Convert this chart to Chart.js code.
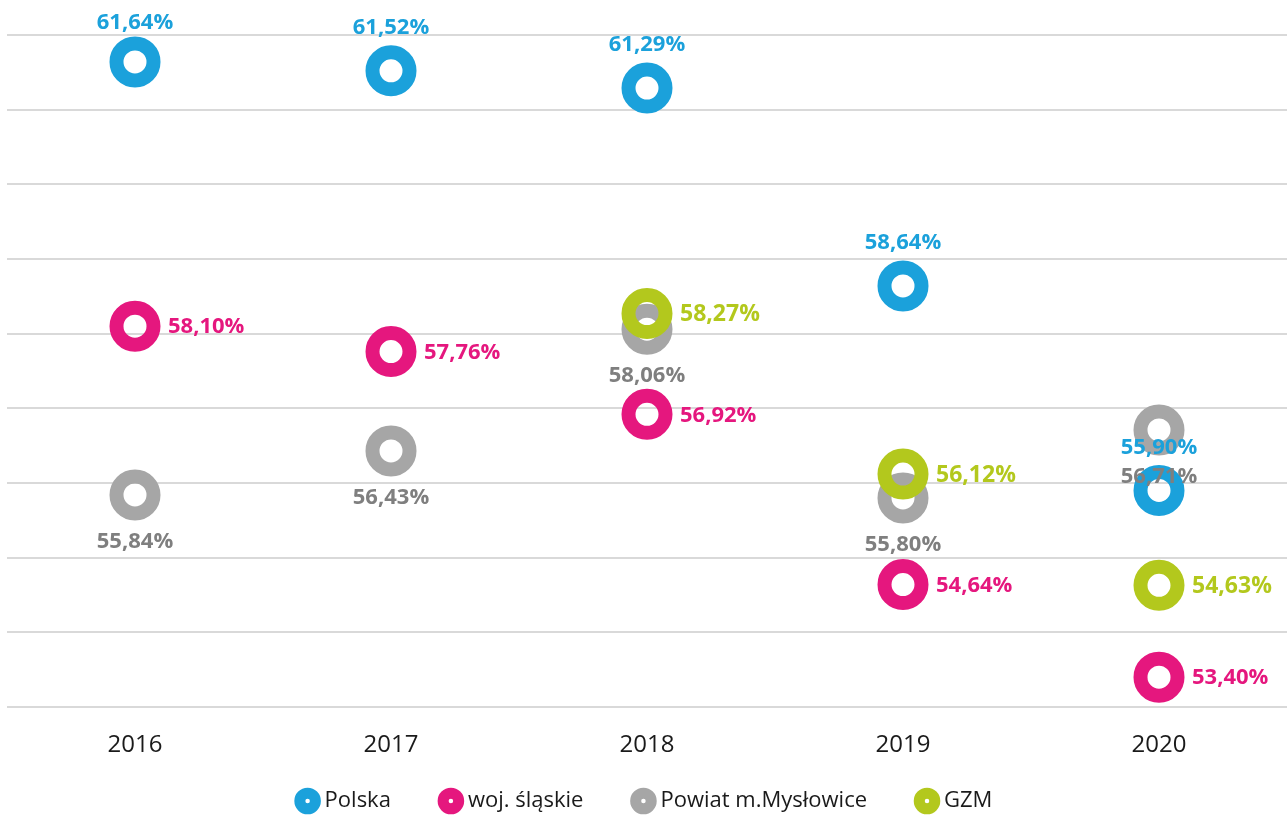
<!DOCTYPE html>
<html lang="pl">
<head>
  <meta charset="UTF-8" />
  <title>Wskaźnik – Polska, woj. śląskie, Powiat m.Mysłowice, GZM</title>
  <script src="https://cdn.jsdelivr.net/npm/chart.js"></script>
  <style>
    html, body { margin: 0; padding: 0; background: #fff; }
    #wrap { width: 1288px; height: 815px; }
  </style>
</head>
<body>
  <div id="wrap"><canvas id="chart" width="1288" height="815"></canvas></div>

  <script>
    // dane
    const years = ['2016', '2017', '2018', '2019', '2020'];
    const polska = [61.64, 61.52, 61.29, 58.64, 55.90];
    const slaskie = [58.10, 57.76, 56.92, 54.64, 53.40];
    const myslowice = [55.84, 56.43, 58.06, 55.80, 56.71];
    const gzm = [null, null, 58.27, 56.12, 54.63];
    const seriesNames = ['Polska', 'woj. śląskie', 'Powiat m.Mysłowice', 'GZM'];

    const ringColors = ['#1ba1db', '#e5177e', '#a6a6a6', '#b3c81d'];
    const labelColors = ['#1ba1db', '#e5177e', '#7f7f7f', '#b3c81d'];
    // where the value label sits relative to its point
    const labelPlace = ['above', 'right', 'below', 'right'];

    const fmt = v => v.toFixed(2).replace('.', ',') + '%';

    function ring(label, data, i, order) {
      return {
        label,
        data,
        order,
        showLine: false,
        borderColor: ringColors[i],
        backgroundColor: 'rgba(0,0,0,0)',
        pointBorderColor: ringColors[i],
        pointBackgroundColor: 'rgba(0,0,0,0)',
        pointRadius: 18.5,
        pointHoverRadius: 18.5,
        pointBorderWidth: 14,
        pointHoverBorderWidth: 14,
        borderWidth: 14,
        clip: false
      };
    }

    const valueLabels = {
      id: 'valueLabels',
      afterDatasetsDraw(chart) {
        const ctx = chart.ctx;
        ctx.save();
        chart.data.datasets.forEach((ds, i) => {
          const meta = chart.getDatasetMeta(i);
          meta.data.forEach((pt, j) => {
            const v = ds.data[j];
            if (v == null) return;
            const text = fmt(v);
            ctx.fillStyle = labelColors[i];
            ctx.font = 'bold ' + (i === 3 ? 23 : 22) + 'px "Open Sans"';
            ctx.textBaseline = 'middle';
            const place = labelPlace[i];
            if (place === 'above') {
              ctx.textAlign = 'center';
              ctx.fillText(text, pt.x, Math.max(pt.y - 43, 23));
            } else if (place === 'below') {
              ctx.textAlign = 'center';
              ctx.fillText(text, pt.x, pt.y + 47);
            } else {
              ctx.textAlign = 'left';
              ctx.fillText(text, pt.x + 33, pt.y + 1);
            }
          });
        });
        ctx.restore();
      }
    };

    // legend keeps its wide horizontal gaps, but sits closer to the axis
    const legendNudge = {
      id: 'legendNudge',
      afterLayout(chart) {
        const lg = chart.legend;
        const pad = lg.options.labels.padding;
        lg.top = 801 - pad - 11;
      }
    };

    new Chart(document.getElementById('chart'), {
      type: 'line',
      data: {
        labels: years,
        datasets: [
          ring(seriesNames[0], polska, 0, 1),
          ring(seriesNames[1], slaskie, 1, 1),
          ring(seriesNames[2], myslowice, 2, 1),
          ring(seriesNames[3], gzm, 3, 0)
        ]
      },
      options: {
        responsive: false,
        animation: false,
        events: [],
        layout: { autoPadding: false, padding: { top: 35, left: 7, right: 1, bottom: -33 } },
        scales: {
          x: {
            offset: true,
            grid: { display: false, drawTicks: false },
            border: { display: false },
            ticks: {
              padding: 24,
              color: '#1a1a1a',
              font: { family: '"Open Sans"', size: 24 }
            },
            afterFit(scale) { scale.height = 55; }
          },
          y: {
            min: 53,
            max: 62,
            ticks: { display: false, stepSize: 1 },
            grid: { color: '#d9d9d9', lineWidth: 2, drawTicks: false },
            border: { display: false },
            afterFit(scale) { scale.width = 0; }
          }
        },
        plugins: {
          tooltip: { enabled: false },
          legend: {
            position: 'bottom',
            labels: {
              usePointStyle: true,
              pointStyle: 'circle',
              boxWidth: 12,
              boxHeight: 11,
              padding: 54,
              color: '#1a1a1a',
              font: { family: '"Open Sans"', size: 22 },
              generateLabels(chart) {
                return chart.data.datasets.map((ds, i) => ({
                  text: ds.label,
                  datasetIndex: i,
                  fillStyle: '#ffffff',
                  strokeStyle: ringColors[i],
                  lineWidth: 11,
                  pointStyle: 'circle',
                  fontColor: '#1a1a1a',
                  hidden: false
                }));
              }
            }
          }
        }
      },
      plugins: [valueLabels, legendNudge]
    });
  </script>
</body>
</html>
